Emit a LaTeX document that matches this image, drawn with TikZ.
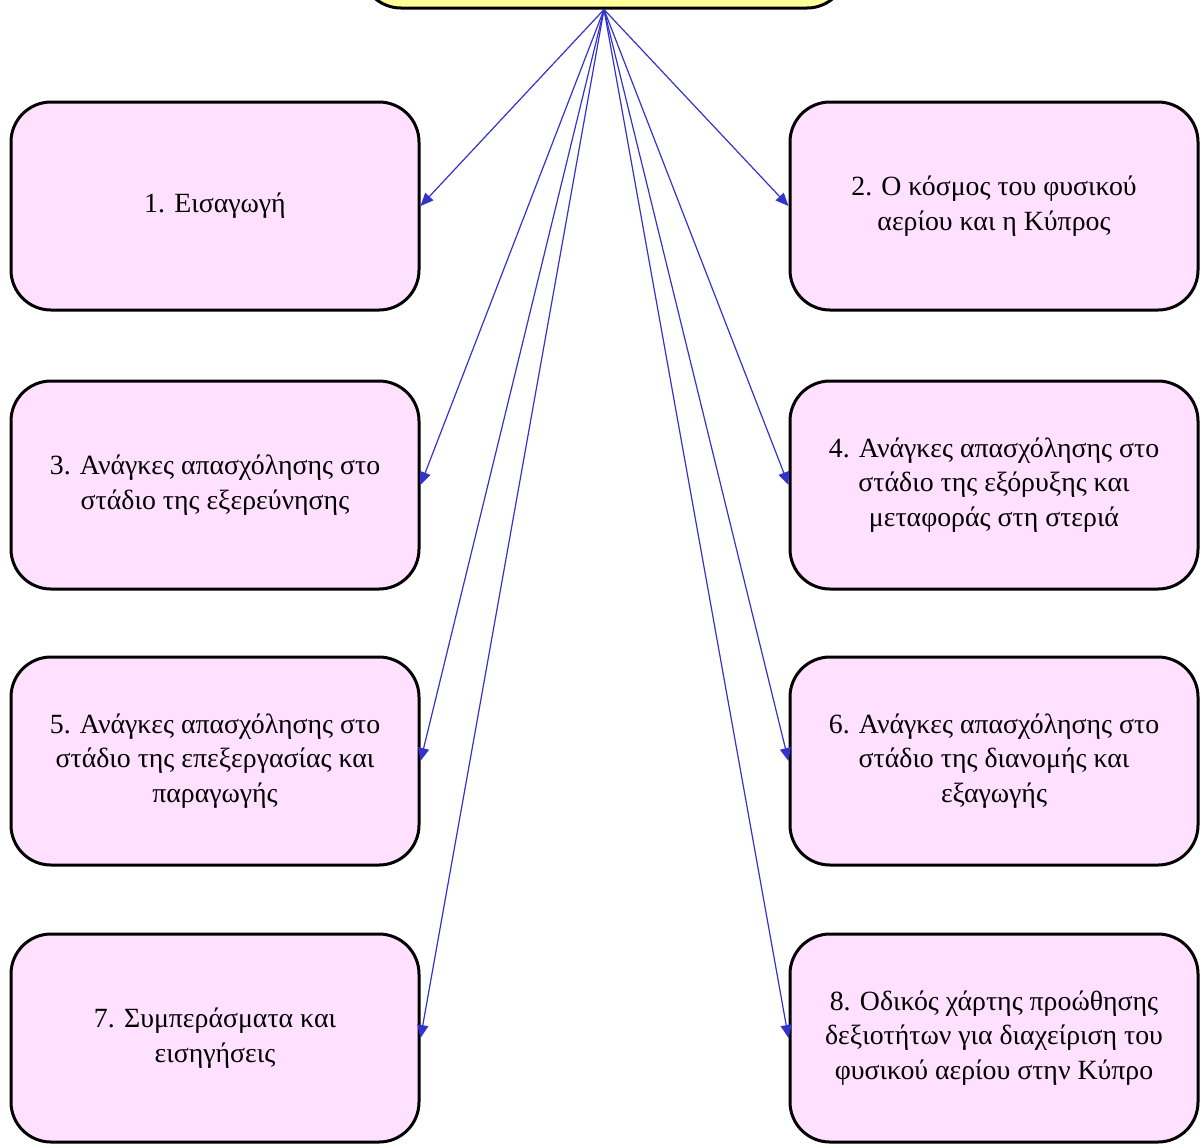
\documentclass[tikz,border=0pt]{standalone}
\usepackage{fontspec}
\setmainfont{Liberation Serif}
\usetikzlibrary{arrows.meta}
\definecolor{boxpink}{RGB}{255,224,255}
\definecolor{boxyellow}{RGB}{255,255,153}
\definecolor{linkblue}{RGB}{51,51,204}
\tikzset{
  chapter/.style={draw, line width=1.5pt, rounded corners=20pt, fill=boxpink,
    minimum width=204pt, minimum height=104pt, align=center,
    font=\fontsize{13.9}{17.2}\selectfont},
  link/.style={linkblue, line width=0.6pt, -{Triangle[length=6.5pt, width=5.5pt]}}
}
\begin{document}
\begin{tikzpicture}[x=0.5pt, y=-0.5pt]
\useasboundingbox (0,0) rectangle (1203,1147);

\node [draw, line width=1.5pt, rounded corners=20pt, fill=boxyellow,
  minimum width=243pt, minimum height=40pt] (top) at (604,-32) {};

\node [chapter] (c1) at (215,206) {1. Εισαγωγή};
\node [chapter] (c2) at (994,206) {2. Ο κόσμος του φυσικού\\αερίου και η Κύπρος};
\node [chapter] (c3) at (215,485) {3. Ανάγκες απασχόλησης στο\\στάδιο της εξερεύνησης};
\node [chapter] (c4) at (994,485) {4. Ανάγκες απασχόλησης στο\\στάδιο της εξόρυξης και\\μεταφοράς στη στεριά};
\node [chapter] (c5) at (215,761) {5. Ανάγκες απασχόλησης στο\\στάδιο της επεξεργασίας και\\παραγωγής};
\node [chapter] (c6) at (994,761) {6. Ανάγκες απασχόλησης στο\\στάδιο της διανομής και\\εξαγωγής};
\node [chapter] (c7) at (215,1038) {7. Συμπεράσματα και\\εισηγήσεις};
\node [chapter] (c8) at (994,1038) {8. Οδικός χάρτης προώθησης\\δεξιοτήτων για διαχείριση του\\φυσικού αερίου στην Κύπρο};

\foreach \n in {1,3,5,7} \draw [link] (top.south) -- (c\n.east);
\foreach \n in {2,4,6,8} \draw [link] (top.south) -- (c\n.west);

\end{tikzpicture}
\end{document}
